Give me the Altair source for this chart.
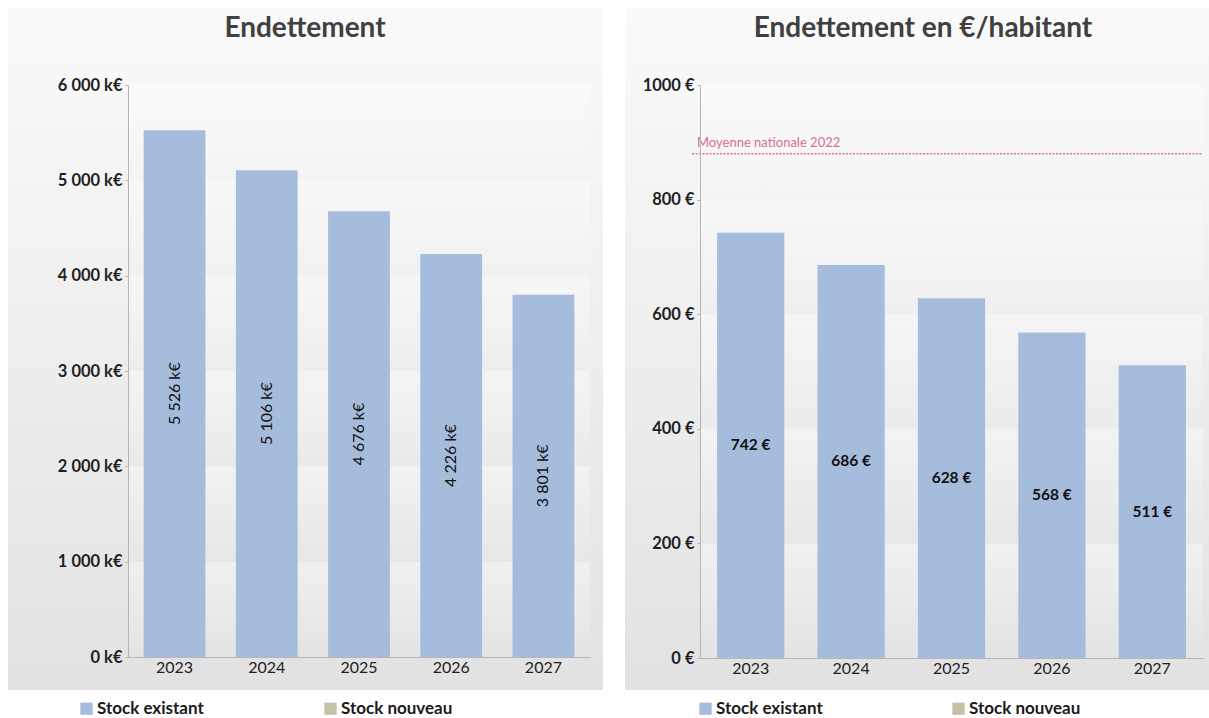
import altair as alt
import pandas as pd

years = ["2023", "2024", "2025", "2026", "2027"]
stock_keur = [5526, 5106, 4676, 4226, 3801]
par_habitant = [742, 686, 628, 568, 511]
moyenne_nationale = 880
moyenne_label = "Moyenne nationale 2022"
series = ["Stock existant", "Stock nouveau"]
series_colors = ["#a6bcdc", "#c5c0a8"]
title_left = "Endettement"
title_right = "Endettement en €/habitant"
ticks_left = [0, 1000, 2000, 3000, 4000, 5000, 6000]
ticks_right = [0, 200, 400, 600, 800, 1000]

FONT = "Lato"
W1, H1 = 462, 572
W2, H2 = 503, 573

panel_grad = alt.Gradient(
    gradient="linear",
    stops=[alt.GradientStop(color="#fafafa", offset=0),
           alt.GradientStop(color="#e2e2e2", offset=1)],
    x1=0, x2=0, y1=0, y2=1)
band_grad = alt.Gradient(
    gradient="linear",
    stops=[alt.GradientStop(color="rgba(255,255,255,0.38)", offset=0),
           alt.GradientStop(color="rgba(255,255,255,0)", offset=1)],
    x1=0, x2=0, y1=0, y2=1)


def fmt_k(v):
    return f"{v:,}".replace(",", " ") + " k€"


df1 = pd.DataFrame({"annee": years, "v1": stock_keur,
                    "mid1": [v / 2 for v in stock_keur],
                    "lab1": [fmt_k(v) for v in stock_keur],
                    "serie1": series[0]})
df2 = pd.DataFrame({"annee": years, "v2": par_habitant,
                    "mid2": [v / 2 for v in par_habitant],
                    "lab2": [f"{v} €" for v in par_habitant],
                    "serie2": series[0]})
bands1 = pd.DataFrame({"lo": ticks_left[:-1], "hi": ticks_left[1:]})
bands2 = pd.DataFrame({"lo": ticks_right[:-1], "hi": ticks_right[1:]})


def panel(df, bands, vfield, midfield, labfield, sfield, W, H, domain, ticks,
          label_expr, title, title_x, title_y, bg, legend_x, legend_y, col_pad,
          vertical_labels):
    x_enc = alt.X("annee:N", sort=years,
                  scale=alt.Scale(paddingInner=0.33, paddingOuter=0.17),
                  axis=alt.Axis(title=None, labelAngle=0, ticks=False, zindex=1,
                                domainColor="#b5b5b5", labelFont=FONT,
                                labelFontSize=16, labelColor="#222222",
                                labelPadding=2))
    y_scale = alt.Scale(domain=domain, nice=False)
    background = alt.Chart(pd.DataFrame({"a": [0]})).mark_rect(fill=panel_grad).encode(
        x=alt.value(bg[0]), x2=alt.value(bg[1]), y=alt.value(bg[2]), y2=alt.value(bg[3]))
    band_layer = alt.Chart(bands).mark_rect(fill=band_grad).encode(
        x=alt.value(0), x2=alt.value(W),
        y=alt.Y("hi:Q", scale=y_scale), y2="lo:Q")
    bars = alt.Chart(df).mark_bar().encode(
        x=x_enc,
        y=alt.Y(f"{vfield}:Q", scale=y_scale,
                axis=alt.Axis(title=None, values=ticks, labelExpr=label_expr,
                              grid=False, zindex=1, domainColor="#b5b5b5",
                              tickColor="#b5b5b5",
                              tickSize=3, labelFont=FONT, labelFontSize=16.5,
                              labelFontWeight="bold", labelColor="#1f1f1f",
                              labelPadding=3)),
        color=alt.Color(f"{sfield}:N",
                        scale=alt.Scale(domain=series, range=series_colors),
                        legend=alt.Legend(title=None, orient="none",
                                          legendX=legend_x, legendY=legend_y,
                                          direction="horizontal",
                                          symbolType="square", symbolSize=150,
                                          symbolStrokeWidth=0, symbolOpacity=1,
                                          labelFont=FONT, labelFontSize=17,
                                          labelFontWeight="bold",
                                          labelColor="#1a1a1a", labelOffset=2,
                                          columnPadding=col_pad)))
    if vertical_labels:
        labels = alt.Chart(df).mark_text(angle=270, font=FONT, fontSize=16,
                                         color="#111111").encode(
            x=alt.X("annee:N", sort=years), y=alt.Y(f"{midfield}:Q", scale=y_scale),
            text=f"{labfield}:N")
    else:
        labels = alt.Chart(df).mark_text(font=FONT, fontSize=15.5, fontWeight="bold",
                                         color="#111111").encode(
            x=alt.X("annee:N", sort=years), y=alt.Y(f"{midfield}:Q", scale=y_scale),
            text=f"{labfield}:N")
    ttl = alt.Chart(pd.DataFrame({"t": [title]})).mark_text(
        font=FONT, fontSize=28, fontWeight="bold", color="#404040").encode(
        x=alt.value(title_x), y=alt.value(title_y), text="t:N")
    return [background, band_layer, bars, labels, ttl]


left_layers = panel(df1, bands1, "v1", "mid1", "lab1", "serie1", W1, H1, [0, 6000],
                    ticks_left,
                    "replace(format(datum.value, ','), /,/g, ' ') + ' k€'",
                    title_left, 177, -56, (-120, 475, -77, 605), -50, 615, 118, True)
left = alt.layer(*left_layers).properties(width=W1, height=H1)

right_layers = panel(df2, bands2, "v2", "mid2", "lab2", "serie2", W2, H2, [0, 1000],
                     ticks_right, "datum.value + ' €'",
                     title_right, 223, -56, (-75, 509, -77, 605), -3, 615, 127, False)
moy_df = pd.DataFrame({"m": [moyenne_nationale], "t": [moyenne_label]})
rule = alt.Chart(moy_df).mark_rule(color="#d6708c", strokeDash=[2, 1.5],
                                   strokeWidth=1.5).encode(
    y=alt.Y("m:Q", scale=alt.Scale(domain=[0, 1000], nice=False)),
    x=alt.value(-8), x2=alt.value(W2))
rule_txt = alt.Chart(moy_df).mark_text(align="left", baseline="bottom", dx=0, dy=-4,
                                       font=FONT, fontSize=13, color="#d6708c").encode(
    y=alt.Y("m:Q"), x=alt.value(-3), text="t:N")
right = alt.layer(*right_layers, rule, rule_txt).properties(width=W2, height=H2)

chart = alt.hconcat(left, right, spacing=22).resolve_scale(
    x="independent", y="independent", color="independent"
).resolve_legend(color="independent").properties(
    padding={"left": 8, "top": 8, "right": 0, "bottom": 0},
    background="white"
).configure_view(stroke=None)

chart.save("out.html", embed_options={"renderer": "svg", "actions": False})
